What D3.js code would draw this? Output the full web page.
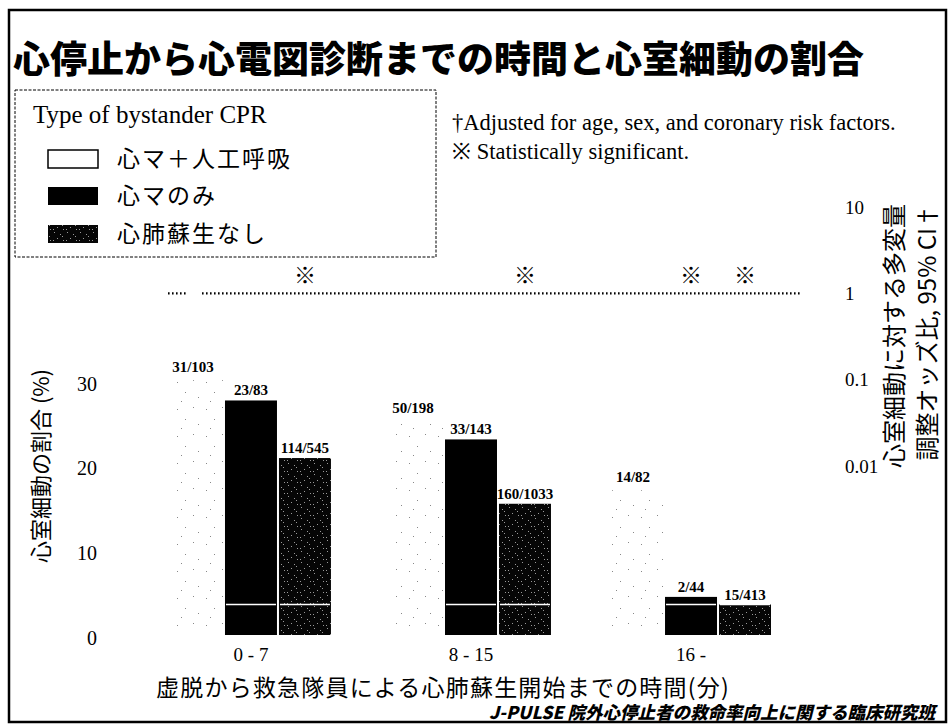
<!DOCTYPE html>
<html><head><meta charset="utf-8">
<script src="https://cdn.jsdelivr.net/npm/d3@7/dist/d3.min.js"></script>
<style>
html,body{margin:0;padding:0;background:#fff;}
svg{display:block;}
</style></head>
<body>
<svg id="chart" width="948" height="724"></svg>
<script>
// ---------- data ----------
const groups = ["0 - 7", "8 - 15", "16 -"];
const series = ["心マ＋人工呼吸", "心マのみ", "心肺蘇生なし"];
const pctCPRVent   = [30.1, 25.3, 17.1];   // 31/103, 50/198, 14/82
const pctCompOnly  = [27.7, 23.1, 4.5];    // 23/83, 33/143, 2/44
const pctNoCPR     = [20.9, 15.5, 3.6];    // 114/545, 160/1033, 15/413
const labelsCPRVent  = ["31/103", "50/198", "14/82"];
const labelsCompOnly = ["23/83", "33/143", "2/44"];
const labelsNoCPR    = ["114/545", "160/1033", "15/413"];
const sigCPRVent  = [false, false, false];
const sigCompOnly = [false, false, true];
const sigNoCPR    = [true, true, true];
const leftTicks  = [0, 10, 20, 30];
const rightTicks = [0.01, 0.1, 1, 10];
const rightTickLabels = ["0.01", "0.1", "1", "10"];
const refLineValue = 3.6;   // white line across bars

const seriesValues = [pctCPRVent, pctCompOnly, pctNoCPR];
const seriesLabels = [labelsCPRVent, labelsCompOnly, labelsNoCPR];
const seriesSig = [sigCPRVent, sigCompOnly, sigNoCPR];

const rows = [];
groups.forEach((g, gi) => series.forEach((s, si) => rows.push({
  group: g, series: s, si, value: seriesValues[si][gi],
  label: seriesLabels[si][gi], sig: seriesSig[si][gi]
})));

// ---------- setup ----------
const svg = d3.select("#chart");
const SERIF = "'Liberation Serif','Times New Roman',serif";
const JP = "'Noto Sans CJK JP','Noto Sans',sans-serif";

const defs = svg.append("defs");
// white bar: sparse light specks
const pw = defs.append("pattern").attr("id","pWhite").attr("patternUnits","userSpaceOnUse")
  .attr("width",29).attr("height",27);
pw.append("rect").attr("width",29).attr("height",27).attr("fill","#fff");
[[3,4],[19,2],[11,14],[24,19],[7,23]].forEach(([x,y]) =>
  pw.append("rect").attr("x",x).attr("y",y).attr("width",1).attr("height",1).attr("fill","#888"));
// dark bar: black with white specks
const pd = defs.append("pattern").attr("id","pDark").attr("patternUnits","userSpaceOnUse")
  .attr("width",13).attr("height",11);
pd.append("rect").attr("width",13).attr("height",11).attr("fill","#060606");
[[2,1],[8,3],[5,7],[11,9],[1,9],[10,5]].forEach(([x,y]) =>
  pd.append("rect").attr("x",x).attr("y",y).attr("width",1).attr("height",1).attr("fill","#9a9a9a"));
const fills = ["url(#pWhite)", "#000", "url(#pDark)"];

// frame
svg.append("rect").attr("x",9).attr("y",10).attr("width",937).attr("height",712)
  .attr("fill","none").attr("stroke","#000").attr("stroke-width",2.5);

// title
svg.append("text").attr("x",13).attr("y",73)
  .attr("font-family",JP).attr("font-weight",900).attr("font-size",37)
  .text("心停止から心電図診断までの時間と心室細動の割合");

// ---------- scales ----------
const x0 = d3.scaleBand().domain(groups).range([171, 771]).paddingInner(0.273).paddingOuter(0);
const x1 = d3.scaleBand().domain(series).range([0, x0.bandwidth()]).paddingInner(0.037);
const y = d3.scaleLinear().domain([0, 30]).range([635, 381]);
const yR = d3.scaleLog().domain([0.01, 10]).range([466, 207]);

// ---------- bars ----------
const gBars = svg.append("g");
gBars.selectAll("rect.bar").data(rows).join("rect").attr("class","bar")
  .attr("x", d => x0(d.group) + x1(d.series))
  .attr("y", d => y(d.value))
  .attr("width", x1.bandwidth())
  .attr("height", d => y(0) - y(d.value))
  .attr("fill", d => fills[d.si]);

// white reference line inside dark bars
gBars.selectAll("line.ref").data(rows.filter(d => d.si > 0)).join("line").attr("class","ref")
  .attr("x1", d => x0(d.group) + x1(d.series) + 1)
  .attr("x2", d => x0(d.group) + x1(d.series) + x1.bandwidth() - 1)
  .attr("y1", y(refLineValue)).attr("y2", y(refLineValue))
  .attr("stroke","#fff").attr("stroke-width",1.3);

// bar labels
gBars.selectAll("text.lab").data(rows).join("text").attr("class","lab")
  .attr("x", d => x0(d.group) + x1(d.series) + x1.bandwidth()/2 + (d.si === 0 ? -4 : 0))
  .attr("y", d => y(d.value) - (d.si === 0 ? 8 : 5))
  .attr("text-anchor","middle")
  .attr("font-family",SERIF).attr("font-weight","bold").attr("font-size",15)
  .text(d => d.label);

// significance marks
svg.selectAll("text.sig").data(rows.filter(d => d.sig)).join("text").attr("class","sig")
  .attr("x", d => x0(d.group) + x1(d.series) + x1.bandwidth()/2)
  .attr("y", yR(1) - 10)
  .attr("text-anchor","middle")
  .attr("font-family",JP).attr("font-weight","bold").attr("font-size",22)
  .text("※");

// dotted line at OR = 1
const dotted = [[168, 186], [202, 800]];
svg.selectAll("line.one").data(dotted).join("line").attr("class","one")
  .attr("x1", d => d[0]).attr("x2", d => d[1])
  .attr("y1", yR(1)).attr("y2", yR(1))
  .attr("stroke","#000").attr("stroke-width",2.2).attr("stroke-dasharray","1.6,2.4");

// ---------- axes ----------
const axL = svg.append("g").attr("transform","translate(97,0)")
  .call(d3.axisLeft(y).tickValues(leftTicks).tickSize(0).tickPadding(0).tickFormat(d3.format("d")));
axL.select(".domain").remove();
axL.selectAll("text").attr("font-family",SERIF).attr("font-size",20).attr("fill","#000").attr("dy","0.45em");

const axR = svg.append("g").attr("transform","translate(845,0)")
  .call(d3.axisRight(yR).tickValues(rightTicks).tickSize(0).tickPadding(0)
    .tickFormat(d => rightTickLabels[rightTicks.indexOf(d)]));
axR.select(".domain").remove();
axR.selectAll("text").attr("font-family",SERIF).attr("font-size",19).attr("fill","#000");

const axB = svg.append("g").attr("transform", `translate(0,${y(0)})`)
  .call(d3.axisBottom(x0).tickSize(0).tickPadding(13));
axB.select(".domain").remove();
axB.selectAll("text").attr("font-family",SERIF).attr("font-size",19).attr("fill","#000");

// axis titles
svg.append("text").attr("transform","translate(49,466) rotate(-90)")
  .attr("text-anchor","middle").attr("font-family",JP).attr("font-size",22)
  .text("心室細動の割合 (%)");

svg.append("text").attr("transform","translate(903,204) rotate(-90)")
  .attr("text-anchor","end").attr("font-family",JP).attr("font-size",24)
  .text("心室細動に対する多変量");
svg.append("text").attr("transform","translate(936,204) rotate(-90)")
  .attr("text-anchor","end").attr("font-family",JP).attr("font-size",24)
  .text("調整オッズ比, 95% CI†");

svg.append("text").attr("x",443).attr("y",696).attr("text-anchor","middle")
  .attr("font-family",JP).attr("font-size",23).attr("letter-spacing",1.2)
  .text("虚脱から救急隊員による心肺蘇生開始までの時間(分)");

svg.append("text").attr("x",935).attr("y",719).attr("text-anchor","end")
  .attr("font-family",JP).attr("font-size",17.5).attr("font-weight",900).attr("font-style","italic")
  .text("J-PULSE 院外心停止者の救命率向上に関する臨床研究班");

// ---------- legend ----------
const lg = svg.append("g");
lg.append("rect").attr("x",15).attr("y",90).attr("width",421).attr("height",167)
  .attr("fill","#fff").attr("stroke","#000").attr("stroke-width",1).attr("stroke-dasharray","3,1.5");
lg.append("text").attr("x",33).attr("y",123).attr("font-family",SERIF).attr("font-size",25)
  .text("Type of bystander CPR");
const legY = [159, 196, 234];
series.forEach((s, i) => {
  lg.append("rect").attr("x",48).attr("y",legY[i]-9).attr("width",50).attr("height",18)
    .attr("fill", i === 0 ? "#fff" : fills[i]).attr("stroke","#000").attr("stroke-width", i === 0 ? 1.5 : 0);
  lg.append("text").attr("x",117).attr("y",legY[i]+8).attr("font-family",JP).attr("font-size",23)
    .attr("letter-spacing",2)
    .text(s);
});

// notes
svg.append("text").attr("x",452).attr("y",130).attr("font-family",SERIF).attr("font-size",22.5)
  .text("†Adjusted for age, sex, and coronary risk factors.");
svg.append("text").attr("x",452).attr("y",159).attr("font-family",SERIF).attr("font-size",22.5)
  .text("※ Statistically significant.");
</script>
</body></html>
